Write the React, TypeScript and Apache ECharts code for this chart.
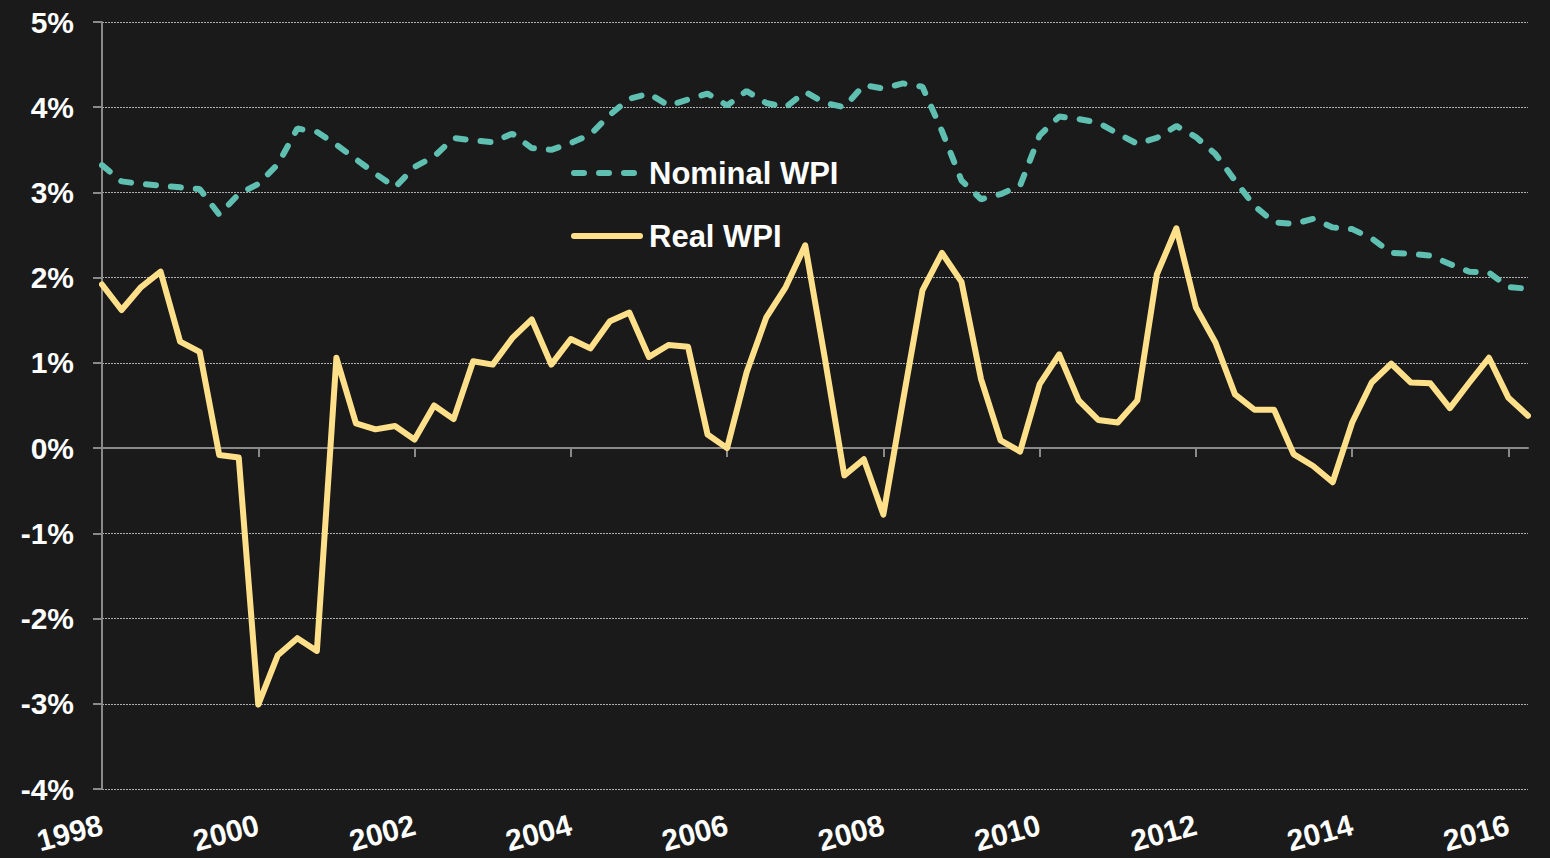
import React, { useEffect, useRef } from "react";
import * as echarts from "echarts";

const years = [1998, 1999, 2000, 2001, 2002, 2003, 2004, 2005, 2006, 2007, 2008, 2009, 2010, 2011, 2012, 2013, 2014, 2015, 2016];
const quarters = ["Q1", "Q2", "Q3", "Q4"];
const categories = years.flatMap((y) => quarters.map((q) => `${y} ${q}`)).slice(0, 74);

const nominalWPI = [
  3.32, 3.13, 3.10, 3.08, 3.06, 3.04, 2.74, 2.98, 3.10, 3.33,
  3.75, 3.71, 3.56, 3.39, 3.22, 3.06, 3.30, 3.42, 3.64, 3.61,
  3.59, 3.69, 3.52, 3.50, 3.58, 3.68, 3.91, 4.10, 4.16, 4.02,
  4.09, 4.16, 4.02, 4.19, 4.05, 4.00, 4.18, 4.05, 4.00, 4.26,
  4.22, 4.28, 4.24, 3.72, 3.14, 2.92, 2.98, 3.08, 3.67, 3.89,
  3.86, 3.82, 3.69, 3.57, 3.64, 3.78, 3.65, 3.45, 3.14, 2.84,
  2.65, 2.63, 2.69, 2.59, 2.57, 2.46, 2.29, 2.28, 2.26, 2.16,
  2.07, 2.06, 1.89, 1.87,
];

const realWPI = [
  1.92, 1.62, 1.89, 2.07, 1.25, 1.13, -0.08, -0.11, -3.01, -2.43,
  -2.23, -2.38, 1.06, 0.29, 0.22, 0.26, 0.10, 0.50, 0.34, 1.02,
  0.98, 1.29, 1.51, 0.98, 1.28, 1.17, 1.49, 1.59, 1.07, 1.21,
  1.19, 0.16, 0.00, 0.89, 1.53, 1.89, 2.38, 1.06, -0.32, -0.13,
  -0.78, 0.55, 1.85, 2.29, 1.95, 0.81, 0.09, -0.04, 0.75, 1.10,
  0.56, 0.33, 0.30, 0.56, 2.04, 2.58, 1.65, 1.24, 0.63, 0.45,
  0.45, -0.07, -0.21, -0.40, 0.30, 0.77, 0.99, 0.77, 0.76, 0.47,
  0.77, 1.06, 0.59, 0.38,
];

const FONT = "'Liberation Sans', Arial, sans-serif";

export default function App() {
  const ref = useRef<HTMLDivElement>(null);
  useEffect(() => {
    if (!ref.current) return;
    const chart = echarts.init(ref.current, null, { renderer: "svg" });
    chart.setOption({
      animation: false,
      backgroundColor: "#1a1a1a",
      grid: { left: 102, right: 22, top: 22, bottom: 69, containLabel: false },
      legend: {
        orient: "vertical",
        left: 571,
        top: 156,
        padding: 0,
        itemWidth: 66,
        itemHeight: 14,
        itemGap: 29,
        itemStyle: { opacity: 0 },
        lineStyle: { width: 6, cap: "round" },
        textStyle: { color: "#ffffff", fontSize: 31, fontWeight: "bold", fontFamily: FONT, lineHeight: 34, padding: [0, 0, 0, 4] },
        data: ["Nominal WPI", "Real WPI"],
      },
      xAxis: [
        {
          type: "category",
          data: categories,
          boundaryGap: false,
          position: "bottom",
          axisLine: { show: false, onZero: false },
          axisTick: { show: false },
          splitLine: { show: false },
          axisLabel: {
            interval: 7,
            rotate: 15,
            margin: 35,
            color: "#ffffff",
            fontSize: 30,
            fontWeight: "bold",
            fontFamily: FONT,
            formatter: (v: string) => v.slice(0, 4),
          },
        },
        {
          type: "category",
          data: categories,
          boundaryGap: false,
          position: "top",
          axisLine: { show: true, onZero: true, lineStyle: { color: "#8a8a8a", width: 2 } },
          axisTick: { show: true, inside: true, interval: 7, length: 9, lineStyle: { color: "#8a8a8a", width: 2 } },
          axisLabel: { show: false },
          splitLine: { show: false },
        },
      ],
      yAxis: {
        type: "value",
        min: -4,
        max: 5,
        interval: 1,
        axisLine: { show: true, lineStyle: { color: "#8a8a8a", width: 2 } },
        axisTick: { show: true, length: 9, lineStyle: { color: "#8a8a8a", width: 2 } },
        splitLine: { show: true, lineStyle: { color: "#b0b0b0", width: 1, type: [2, 1] } },
        axisLabel: {
          margin: 28,
          color: "#ffffff",
          fontSize: 30,
          fontWeight: "bold",
          fontFamily: FONT,
          formatter: "{value}%",
        },
      },
      series: [
        {
          name: "Nominal WPI",
          type: "line",
          data: nominalWPI,
          xAxisIndex: 0,
          symbol: "none",
          lineStyle: { color: "#5fbfb1", width: 6, type: [10, 15], cap: "round" },
          itemStyle: { color: "#5fbfb1" },
        },
        {
          name: "Real WPI",
          type: "line",
          data: realWPI,
          xAxisIndex: 0,
          symbol: "none",
          lineStyle: { color: "#ffe08a", width: 6, cap: "round", join: "round" },
          itemStyle: { color: "#ffe08a" },
        },
      ],
    });
    return () => chart.dispose();
  }, []);
  return <div ref={ref} style={{ position: "fixed", left: 0, top: 0, width: 1550, height: 858 }} />;
}
